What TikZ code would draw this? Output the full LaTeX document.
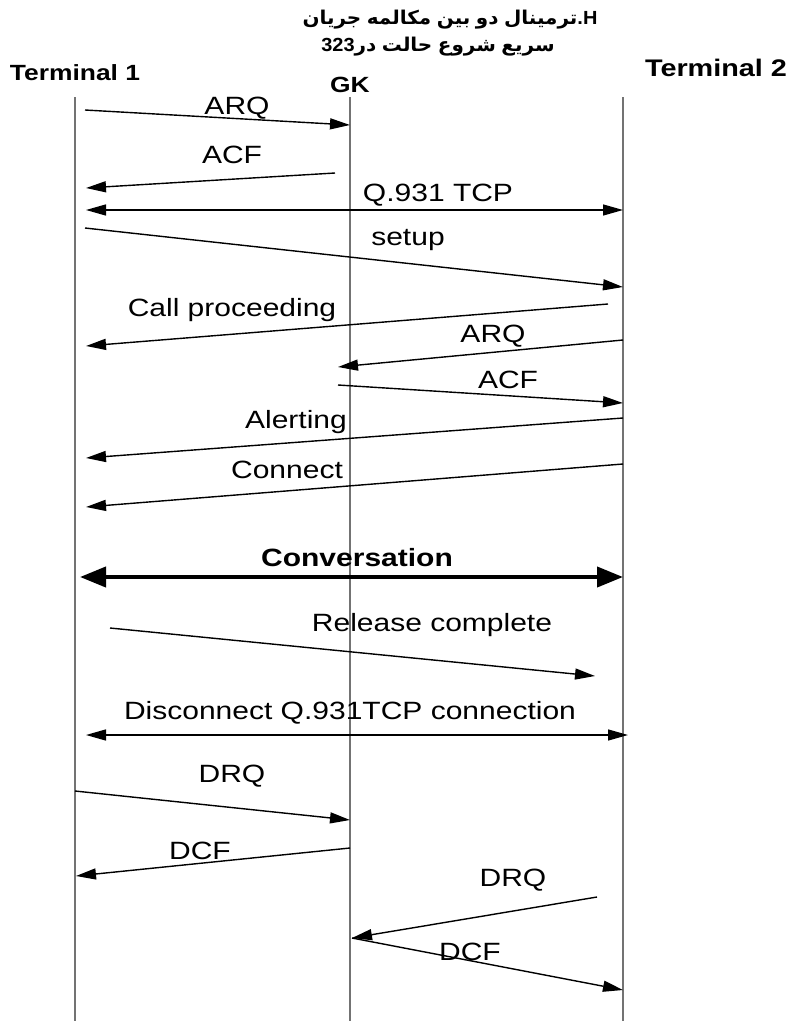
\documentclass[tikz,border=0pt]{standalone}
\usepackage{fontspec}
\setmainfont{Liberation Sans}
\newfontfamily\arabicfont[Script=Arabic]{DejaVu Sans}
\TeXXeTstate=1
\usetikzlibrary{arrows.meta}
\newcommand{\lbl}[1]{\scalebox{1.2}[1]{#1}}
\newcommand{\ttlx}[1]{\scalebox{1.05}[1]{#1}}
\newcommand{\aw}[1]{\hbox{\arabicfont\bfseries\beginR #1\endR}}
\begin{document}
\begin{tikzpicture}[x=1pt,y=-1pt,
  life/.style={draw=black!55, line width=2pt},
  msg/.style={line width=1.4pt, -{Triangle[length=20pt,width=11pt]}},
  dmsg/.style={line width=1.4pt, {Triangle[length=20pt,width=11pt]}-{Triangle[length=20pt,width=11pt]}},
  conv/.style={line width=4pt, {Triangle[length=26pt,width=20pt]}-{Triangle[length=26pt,width=20pt]}},
  lab/.style={font=\fontsize{25}{30}\selectfont, inner sep=0pt},
  head/.style={font=\fontsize{22}{26}\selectfont\bfseries, inner sep=0pt},
  ttl/.style={font=\fontsize{19}{23}\selectfont, inner sep=0pt}]
\useasboundingbox[fill=white] (0,0) rectangle (799,1021);

% title (words laid out left to right, as in the reference)
\node[ttl] (title1) at (450,20) {\ttlx{\aw{جریان}\ \aw{مکالمه}\ \aw{بین}\ \aw{دو}\ \aw{ترمینال}\hbox{\bfseries .H}}};
\node[ttl] (title2) at (438,47) {\ttlx{\hbox{\bfseries 323}\aw{در}\ \aw{حالت}\ \aw{شروع}\ \aw{سریع}}};

% heads
\node[head] (t1) at (75,73) {\lbl{Terminal 1}};
\node[head] (gk) at (350,85) {\lbl{GK}};
\node[head,font=\fontsize{24}{28}\selectfont\bfseries] (t2) at (716,68) {\lbl{Terminal 2}};

% lifelines
\coordinate (t1top) at (75,97);  \coordinate (t1bot) at (75,1021);
\coordinate (gktop) at (350,97); \coordinate (gkbot) at (350,1021);
\coordinate (t2top) at (623,97); \coordinate (t2bot) at (623,1021);
\draw[life] (t1top) -- (t1bot);
\draw[life] (gktop) -- (gkbot);
\draw[life] (t2top) -- (t2bot);

% messages
\coordinate (m1s) at (85,110);  \coordinate (m1e) at (350,125);
\coordinate (m2s) at (335,173); \coordinate (m2e) at (86,188);
\coordinate (m3s) at (86,210);  \coordinate (m3e) at (623,210);
\coordinate (m4s) at (85,228);  \coordinate (m4e) at (623,287);
\coordinate (m5s) at (608,304); \coordinate (m5e) at (86,346);
\coordinate (m6s) at (623,340); \coordinate (m6e) at (338,367);
\coordinate (m7s) at (338,385); \coordinate (m7e) at (623,403);
\coordinate (m8s) at (623,418); \coordinate (m8e) at (86,458);
\coordinate (m9s) at (623,464); \coordinate (m9e) at (86,507);
\coordinate (m10s) at (80,577); \coordinate (m10e) at (623,577);
\coordinate (m11s) at (110,628); \coordinate (m11e) at (595,676);
\coordinate (m12s) at (86,735); \coordinate (m12e) at (628,735);
\coordinate (m13s) at (75,791); \coordinate (m13e) at (350,820);
\coordinate (m14s) at (350,848); \coordinate (m14e) at (76,876);
\coordinate (m15s) at (597,897); \coordinate (m15e) at (352,938);
\coordinate (m16s) at (352,938); \coordinate (m16e) at (623,990);

\draw[msg] (m1s) -- (m1e);
\draw[msg] (m2s) -- (m2e);
\draw[dmsg] (m3s) -- (m3e);
\draw[msg] (m4s) -- (m4e);
\draw[msg] (m5s) -- (m5e);
\draw[msg] (m6s) -- (m6e);
\draw[msg] (m7s) -- (m7e);
\draw[msg] (m8s) -- (m8e);
\draw[msg] (m9s) -- (m9e);
\draw[conv] (m10s) -- (m10e);
\draw[msg] (m11s) -- (m11e);
\draw[dmsg] (m12s) -- (m12e);
\draw[msg] (m13s) -- (m13e);
\draw[msg] (m14s) -- (m14e);
\draw[msg] (m15s) -- (m15e);
\draw[msg] (m16s) -- (m16e);

% labels
\node[lab] (l1) at (237,108) {\lbl{ARQ}};
\node[lab] (l2) at (232,155) {\lbl{ACF}};
\node[lab] (l3) at (438,195) {\lbl{Q.931 TCP}};
\node[lab] (l4) at (408,240) {\lbl{setup}};
\node[lab] (l5) at (232,310) {\lbl{Call proceeding}};
\node[lab] (l6) at (493,336) {\lbl{ARQ}};
\node[lab] (l7) at (508,380) {\lbl{ACF}};
\node[lab] (l8) at (296,422) {\lbl{Alerting}};
\node[lab] (l9) at (287,470) {\lbl{Connect}};
\node[lab,font=\fontsize{25}{30}\selectfont\bfseries] (l10) at (357,558) {\lbl{Conversation}};
\node[lab] (l11) at (432,625) {\lbl{Release complete}};
\node[lab] (l12) at (350,713) {\lbl{Disconnect Q.931TCP connection}};
\node[lab] (l13) at (232,776) {\lbl{DRQ}};
\node[lab] (l14) at (200,851) {\lbl{DCF}};
\node[lab] (l15) at (513,880) {\lbl{DRQ}};
\node[lab] (l16) at (470,952) {\lbl{DCF}};
\end{tikzpicture}
\end{document}
